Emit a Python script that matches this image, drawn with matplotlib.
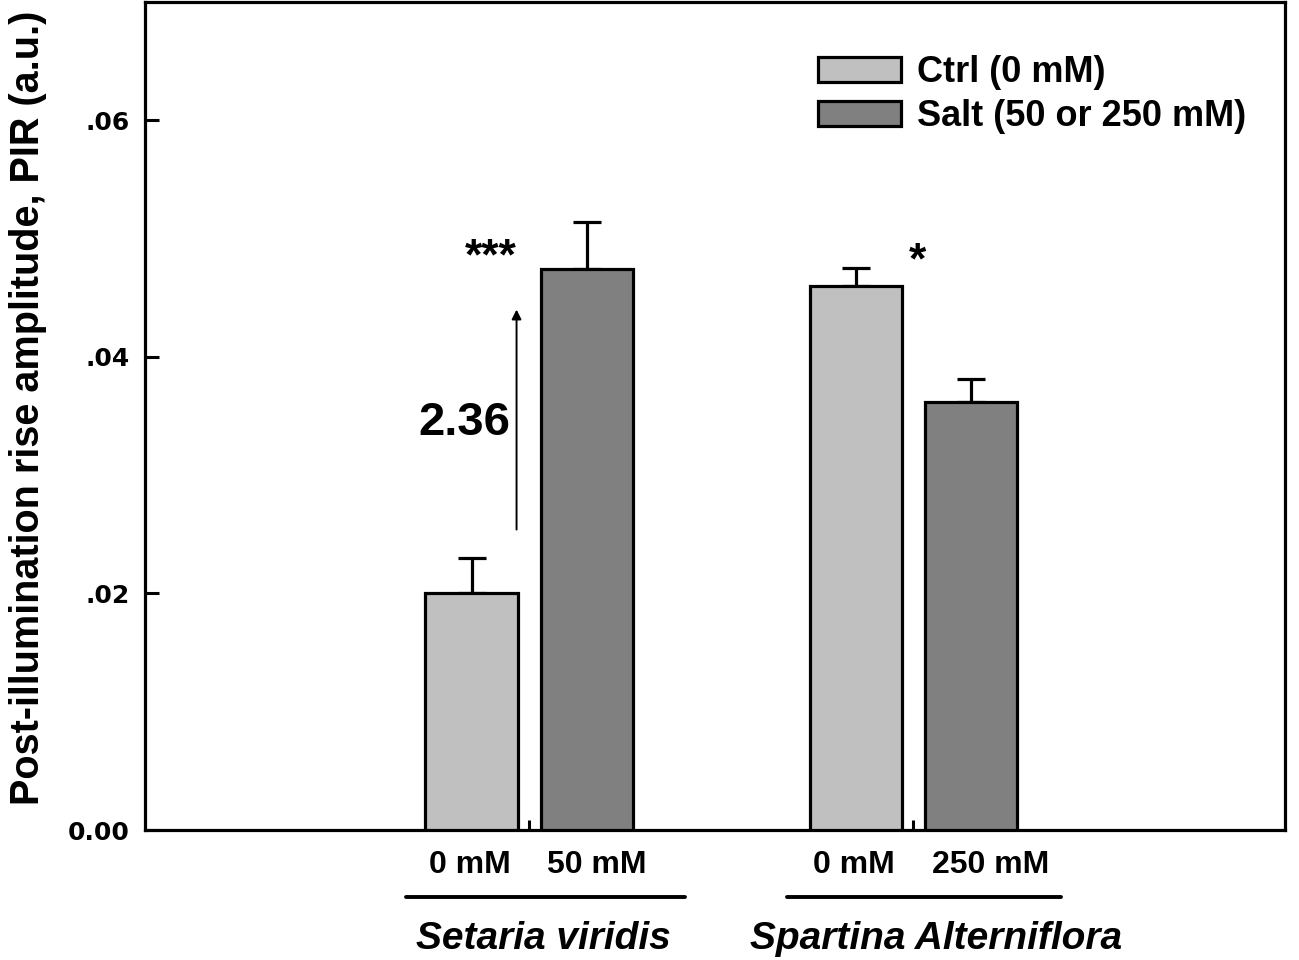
import matplotlib
matplotlib.use("Agg")
import matplotlib.pyplot as plt
import matplotlib.transforms as mtransforms
from matplotlib.lines import Line2D
import numpy as np

species = ["Setaria viridis", "Spartina Alterniflora"]
ctrl_labels = ["0 mM", "0 mM"]
salt_labels = ["50 mM", "250 mM"]
ctrl_means = [0.0200, 0.0460]
ctrl_err = [0.0030, 0.0015]
salt_means = [0.0474, 0.0362]
salt_err = [0.0040, 0.0019]
signif = ["***", "*"]
fold_text = "2.36"
yticks = [0.0, 0.02, 0.04, 0.06]
ytick_labels = ["0.00", ".02", ".04", ".06"]

C_LIGHT = "#c0c0c0"
C_DARK = "#808080"
FONT = "Liberation Sans"

fig = plt.figure(figsize=(12.99, 9.6), dpi=100)
ax = fig.add_axes([145/1299, 1-830/960, 1140/1299, 828/960])

x = np.array([1.0, 2.0])
off = 0.15
w = 0.24
lw = 2.3

ax.bar(x - off, ctrl_means, w, color=C_LIGHT, edgecolor="black", linewidth=lw, zorder=3, label="Ctrl (0 mM)")
ax.bar(x + off, salt_means, w, color=C_DARK, edgecolor="black", linewidth=lw, zorder=3, label="Salt (50 or 250 mM)")
for xs, m, e in [(x - off, ctrl_means, ctrl_err), (x + off, salt_means, salt_err)]:
    ax.errorbar(xs, m, yerr=[np.zeros(len(e)), e], fmt="none", ecolor="black",
                elinewidth=2.3, capsize=10, capthick=2.3, zorder=2)

ax.set_xlim(0, 2.967)
ax.set_ylim(0, 0.07)
ax.set_yticks(yticks)
ax.set_yticklabels(ytick_labels, fontfamily="DejaVu Sans", fontweight="bold", fontsize=18)
ax.set_xticks(x)
ax.set_xticklabels([])
ax.tick_params(axis="y", direction="in", length=10, width=2.2, pad=11)
ax.tick_params(axis="x", direction="in", length=7, width=2.2)
for s in ax.spines.values():
    s.set_linewidth(2.3)

ax.set_ylabel("Post-illumination rise amplitude, PIR (a.u.)", fontfamily=FONT,
              fontweight="bold", fontsize=28.5)
ax.yaxis.set_label_coords(-0.086, 0.51)

trans = mtransforms.blended_transform_factory(ax.transData, ax.transAxes)
salt_shift = [0.025, 0.05]
for i in range(2):
    ax.text(x[i] - off - 0.005, -0.042, ctrl_labels[i], transform=trans, ha="center", va="center",
            fontfamily=FONT, fontweight="bold", fontsize=23)
    ax.text(x[i] + off + salt_shift[i], -0.042, salt_labels[i], transform=trans, ha="center", va="center",
            fontfamily=FONT, fontweight="bold", fontsize=23)
    ax.add_line(Line2D([x[i] - 0.32 - 0.01 * i, x[i] + 0.405 - 0.02 * i], [-0.081, -0.081], transform=trans,
                       color="black", linewidth=2.8, solid_capstyle="round", clip_on=False))
    ax.text(x[i] + 0.036 + 0.023 * i, -0.132, species[i], transform=trans, ha="center", va="center",
            fontfamily=FONT, fontweight="bold", fontstyle="italic", fontsize=28)

# significance
ax.text(x[0] - 0.1, 0.0484, signif[0], ha="center", va="center", fontfamily=FONT,
        fontweight="bold", fontsize=32)
ax.text(x[1] + 0.01, 0.0480, signif[1], ha="center", va="center", fontfamily=FONT,
        fontweight="bold", fontsize=32)

# fold change arrow
ax.annotate("", xy=(x[0] - 0.033, 0.0440), xytext=(x[0] - 0.033, 0.0254),
            arrowprops=dict(arrowstyle="-|>", color="black", lw=1.4, mutation_scale=14,
                            shrinkA=0, shrinkB=0))
ax.text(x[0] - 0.05, 0.0344, fold_text, ha="right", va="center", fontfamily=FONT,
        fontweight="bold", fontsize=34)

ax.legend(loc="upper left", bbox_to_anchor=(0.590, 0.936), frameon=False,
          borderpad=0, borderaxespad=0, handlelength=2.3, handleheight=0.68,
          handletextpad=0.45, labelspacing=0.25,
          prop=dict(family=FONT, weight="bold", size=26))

fig.savefig("out.png", dpi=100)
